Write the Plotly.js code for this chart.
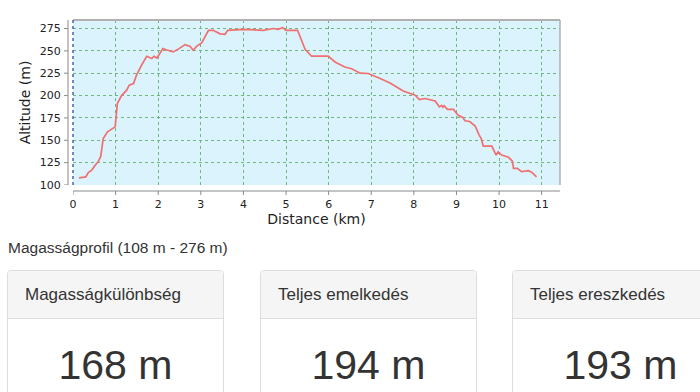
<!DOCTYPE html>
<html>
<head>
<meta charset="utf-8">
<script src="https://cdn.plot.ly/plotly-3.0.1.min.js"></script>
<style>
  html, body { margin: 0; padding: 0; background: #fff; width: 700px; height: 392px; overflow: hidden; }
  #chart { position: absolute; left: 0; top: 0; width: 700px; height: 230px; }
  #profile { position: absolute; left: 8px; top: 238px; font-family: "Liberation Sans", Arial, sans-serif; font-size: 15.5px; line-height: 20px; color: #333; }
  .card { position: absolute; top: 270px; width: 217px; height: 140px; border: 1px solid #ddd; border-radius: 4px; background: #fff; box-sizing: border-box; overflow: hidden; }
  .card .hd { height: 48px; background: #f5f5f5; border-bottom: 1px solid #ddd; box-sizing: border-box; padding-left: 17px; line-height: 48px; font-family: "Liberation Sans", Arial, sans-serif; font-size: 17px; color: #333; }
  .card .bd { text-align: center; font-family: "Liberation Sans", Arial, sans-serif; font-size: 41px; color: #333; padding-top: 21px; line-height: 50px; }
</style>
</head>
<body>
<div id="chart"></div>
<div id="profile"></div>
<div id="cards"></div>
<script>
const distanceKm = [0.14,0.30,0.36,0.44,0.52,0.59,0.65,0.71,0.81,0.99,1.04,1.14,1.26,1.32,1.42,1.49,1.61,1.73,1.85,1.90,1.97,2.04,2.11,2.20,2.35,2.49,2.63,2.75,2.82,2.90,3.02,3.18,3.29,3.45,3.57,3.63,4.00,4.47,4.70,4.81,4.92,5.00,5.27,5.45,5.60,5.99,6.15,6.38,6.54,6.74,6.93,7.21,7.44,7.75,7.99,8.03,8.13,8.26,8.50,8.60,8.65,8.68,8.71,8.79,8.93,9.04,9.15,9.20,9.31,9.44,9.53,9.58,9.63,9.83,9.93,9.98,10.06,10.22,10.31,10.34,10.43,10.53,10.69,10.77,10.88];
const altitudeM = [108,109,114,116.7,122,126,131.6,152,159.5,165,191,200,206,211.6,213.5,222.8,234,244,241.4,244,242,247,252.5,251,248.8,252.5,257,255,250.7,255,258.8,273,273,269,268.5,273,274,273,275,274,276,273,273,251.5,244,244,237.6,232,230,225,224.7,219,214,205,200.4,200.4,195.6,196.7,194,187.4,189,187,188.5,184.5,184.5,178,175.5,171.8,171,166,156,152,143.5,143.5,133.5,137,133.5,131,126.8,118.6,118.6,115,116,114,109];
const xTicks = [0,1,2,3,4,5,6,7,8,9,10,11];
const yTicks = [100,125,150,175,200,225,250,275];
const profileLabel = "Magasságprofil (108 m - 276 m)";
const statTitles = ["Magasságkülönbség", "Teljes emelkedés", "Teljes ereszkedés"];
const statValues = ["168 m", "194 m", "193 m"];

const plotW = 487, plotH = 165;
const axisCol = "#8a8a8a";
const shapes = [];
shapes.push({type:"line", xref:"paper", yref:"paper", x0:0, x1:1, y0:-6/plotH, y1:-6/plotH, line:{color:axisCol, width:1}});
shapes.push({type:"line", xref:"paper", yref:"paper", x0:-5/plotW, x1:-5/plotW, y0:0, y1:1, line:{color:axisCol, width:1}});
xTicks.forEach(v => shapes.push({type:"line", xref:"x", yref:"paper", x0:v, x1:v, y0:-6/plotH, y1:-10/plotH, line:{color:axisCol, width:1}}));
yTicks.forEach(v => shapes.push({type:"line", xref:"paper", yref:"y", x0:-5/plotW, x1:-9/plotW, y0:v, y1:v, line:{color:axisCol, width:1}}));
shapes.push({type:"line", xref:"paper", yref:"paper", x0:0, x1:1, y0:1, y1:1, line:{color:"#b0b0b0", width:2}});
shapes.push({type:"line", xref:"paper", yref:"paper", x0:1, x1:1, y0:0, y1:1, line:{color:"#b0b0b0", width:1.5}});
shapes.push({type:"line", xref:"paper", yref:"paper", x0:0, x1:0, y0:0, y1:1, line:{color:"#5060b0", width:1.5, dash:"dot"}});

const tickFont = {family:"DejaVu Sans, sans-serif", size:11, color:"#222"};
const titleFont = {family:"DejaVu Sans, sans-serif", size:14, color:"#222"};
Plotly.newPlot("chart", [{
  x: distanceKm, y: altitudeM, type:"scatter", mode:"lines",
  line:{color:"#f07070", width:1.7}, hoverinfo:"skip"
}], {
  width:700, height:230,
  margin:{l:73, r:140, t:20, b:45},
  paper_bgcolor:"#ffffff", plot_bgcolor:"#daf3fd",
  showlegend:false,
  font: tickFont,
  xaxis:{range:[0,11.43], tickvals:xTicks, ticks:"outside", ticklen:9, tickcolor:"rgba(0,0,0,0)",
         showgrid:true, gridcolor:"#6fb67f", griddash:"dot", gridwidth:1, zeroline:false, showline:false,
         tickfont:tickFont,
         title:{text:"Distance (km)", font:titleFont, standoff:3}},
  yaxis:{range:[100,284.5], tickvals:yTicks, ticks:"outside", ticklen:9, tickcolor:"rgba(0,0,0,0)",
         showgrid:true, gridcolor:"#6fb67f", griddash:"dot", gridwidth:1, zeroline:false, showline:false,
         tickfont:tickFont,
         title:{text:"Altitude (m)", font:titleFont, standoff:5}},
  shapes: shapes
}, {staticPlot:true, displayModeBar:false});

document.getElementById("profile").textContent = profileLabel;
const cardLefts = [7, 260, 512];
const cards = document.getElementById("cards");
statTitles.forEach((t, i) => {
  const c = document.createElement("div");
  c.className = "card";
  c.style.left = cardLefts[i] + "px";
  c.innerHTML = '<div class="hd"></div><div class="bd"></div>';
  c.querySelector(".hd").textContent = t;
  c.querySelector(".bd").textContent = statValues[i];
  cards.appendChild(c);
});
</script>
</body>
</html>
